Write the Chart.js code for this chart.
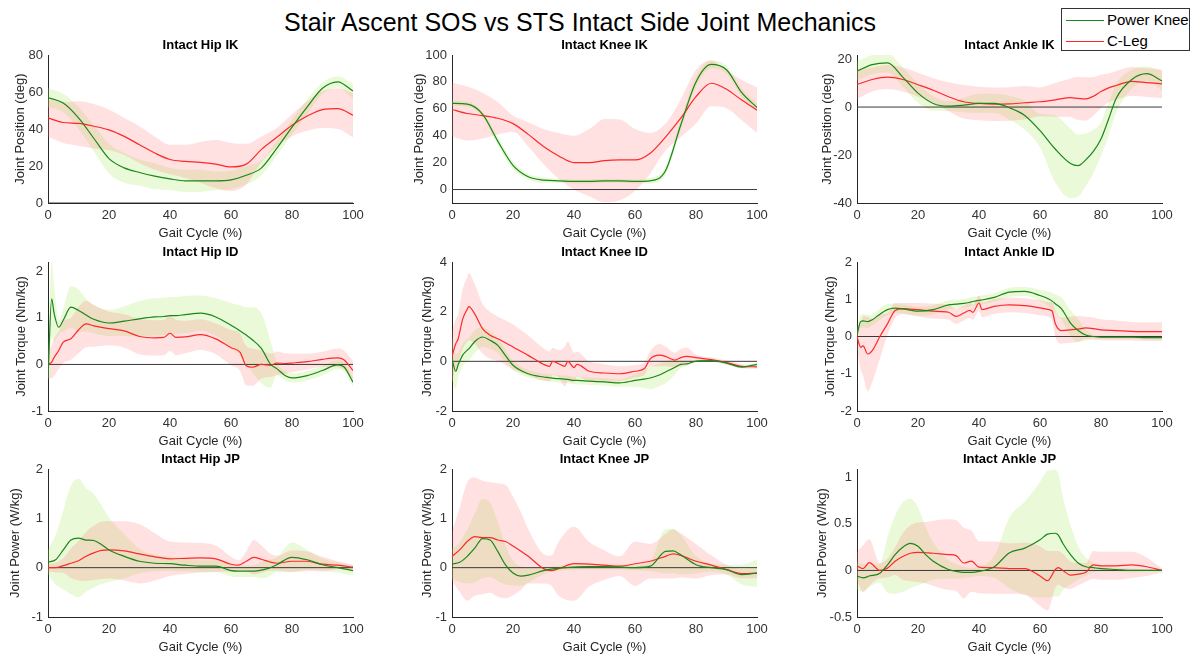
<!DOCTYPE html>
<html>
<head>
<meta charset="utf-8">
<title>Stair Ascent SOS vs STS Intact Side Joint Mechanics</title>
<script src="https://cdn.jsdelivr.net/npm/chart.js@4.4.0/dist/chart.umd.min.js"></script>
<style>
  body { margin: 0; background: #fff; width: 1196px; height: 658px; position: relative; overflow: hidden;
         font-family: "Liberation Sans", Arial, sans-serif; }
  #mainTitle { position: absolute; left: 0; top: 8px; width: 1160px; text-align: center;
               font-size: 25px; line-height: 28px; color: #000; }
  .panel { position: absolute; }
  #legend { position: absolute; left: 1061px; top: 8px; width: 127px; height: 41px;
            border: 1px solid #333; background: #fff; font-size: 15px; color: #000; }
  .entry { position: absolute; left: 4px; height: 18px; }
  .entry i { position: absolute; left: 0; top: 9px; width: 38px; height: 0; border-top: 1px solid; }
  .entry span { position: absolute; left: 41px; top: 0; white-space: nowrap; line-height: 18px; }
</style>
</head>
<body>
<div id="mainTitle">Stair Ascent SOS vs STS Intact Side Joint Mechanics</div>
<div id="legend">
  <div class="entry" style="top:2px"><i style="border-color:rgb(25,135,25)"></i><span>Power Knee</span></div>
  <div class="entry" style="top:23px"><i style="border-color:rgb(255,40,40)"></i><span>C-Leg</span></div>
</div>

<script>
// gait cycle axis
const gaitTicks = [0, 20, 40, 60, 80, 100];
const gaitRange = [0, 100];
const pct5 = [0,5,10,15,20,25,30,35,40,45,50,55,60,65,70,75,80,85,90,95,100];

// ---- Hip IK (deg) ----
const hipIkPk   = [57,54,46,35,24,19,16.5,14.5,13,12,12,12,12.5,15,19,29.5,41,52,62,65.5,60.5];
const hipIkPkSd = [5,5,6,7,8,8,7,7,6,6,6,5,5,5,4,4,4,4,3,3,4];
const hipIkCl   = [46,43.5,43,41.5,39.5,36,31.5,27,23.5,22.5,22,21,19.5,21,29,35.5,42,47,50.5,51,47.5];
const hipIkClSd = [10,11,12,12,11,10,10,9,8,9,11,13,13,11,7,5,6,8,10,11,12];
const hipIkTicks = [0, 20, 40, 60, 80];

// ---- Knee IK (deg) ----
const kneeIkPk   = [64,63.5,56,36,18,9.5,7,6.5,6,6,6.5,6.5,6,6.5,14,48,80,93,89,72,61];
const kneeIkPkSd = [2,2,2,3,3,2,2,1.5,1.5,1.5,1.5,1.5,1.5,2,3,4,4,3,3,3,3];
const kneeIkCl   = [59.5,56.5,55,53,49,41,32,25,20,20,21.5,22,22,27,39,53,69,79,74.5,66.5,59];
const kneeIkClSd = [20,20,17,12,6,9,13,17,20,25,31,30,23,15,10,14,20,17,14,15,17];
const kneeIkTicks = [0, 20, 40, 60, 80, 100];

// ---- Ankle IK (deg) ----
const ankleIkX    = [0,5,10,15,20,25,30,35,40,45,50,55,60,65,70,72.5,75,77.5,80,82.5,85,90,95,100];
const ankleIkPk   = [15,17.7,18.4,12.5,5.8,1.5,0.4,0.8,1.5,1.5,-0.3,-3.5,-9.8,-17.5,-23.5,-24.4,-22,-18.5,-13.3,-5,3.7,11.4,13.9,10.9];
const ankleIkPkSd = [4,4,4,4,4,3,2,3,4,4,5,6,7,14,14.5,13,11,9,7,7,6,4,3,4];
const ankleIkCl   = [9.4,11.5,12.5,11.5,9.3,7,4.3,2.2,1.5,1.2,1.3,1.8,2.2,3,3.9,3.6,3.4,4.5,6.5,8,9,10.7,10.2,9.7];
const ankleIkClSd = [6,5,5,5,5,5,6,7,7,7,7,7,6,7,8,9,9,8,7,6,6,6,6,6];
const ankleIkTicks = [-40, -20, 0, 20];

// ---- Hip ID (Nm/kg) ----
const hipIdX    = [0,1.2,2,3.5,5,7.5,10,12.5,15,20,25,30,35,38,40,42,45,50,55,60,63,65,67,70,73,75,78,80,85,90,95,97,100];
const hipIdPk   = [-0.3,1.41,1.1,0.8,0.95,1.23,1.16,1.06,0.97,0.89,0.93,0.98,1.02,1.03,1.05,1.05,1.07,1.1,1.02,0.84,0.72,0.63,0.53,0.34,0,-0.09,-0.25,-0.29,-0.24,-0.13,-0.01,-0.05,-0.38];
const hipIdPkSd = [0.1,0.8,0.6,0.15,0.25,0.45,0.45,0.35,0.3,0.28,0.32,0.38,0.4,0.4,0.4,0.4,0.4,0.38,0.4,0.48,0.55,0.6,0.7,0.75,0.5,0.15,0.1,0.1,0.1,0.1,0.1,0.1,0.1];
const hipIdCl   = [0,0.05,0.15,0.3,0.48,0.55,0.74,0.87,0.83,0.77,0.72,0.6,0.57,0.58,0.67,0.58,0.59,0.64,0.55,0.36,0.26,-0.03,-0.06,0,-0.02,0.03,0.02,0.03,0.06,0.11,0.14,0.1,-0.13];
const hipIdClSd = [0.3,0.35,0.4,0.4,0.45,0.45,0.5,0.5,0.45,0.36,0.36,0.38,0.38,0.38,0.38,0.38,0.35,0.33,0.33,0.38,0.4,0.42,0.4,0.3,0.25,0.25,0.22,0.2,0.17,0.16,0.2,0.2,0.2];
const hipIdTicks = [-1, 0, 1, 2];

// ---- Knee ID (Nm/kg) ----
const kneeIdX    = [0,1.2,2,3.5,5,5.5,7.5,10,12.5,15,17.5,20,25,30,32,33,35,37,38,40,41,45,50,55,60,63,65,68,70,73,75,77,80,85,90,95,100];
const kneeIdPk   = [0.1,-0.4,-0.15,0.25,0.45,0.5,0.8,0.98,0.85,0.64,0.24,-0.16,-0.5,-0.63,-0.66,-0.68,-0.7,-0.72,-0.73,-0.77,-0.77,-0.8,-0.83,-0.87,-0.77,-0.72,-0.67,-0.55,-0.43,-0.25,-0.12,-0.1,0.01,0.03,-0.07,-0.23,-0.12];
const kneeIdPkSd = [0.9,0.7,0.5,0.45,0.45,0.45,0.45,0.4,0.35,0.3,0.25,0.2,0.15,0.15,0.15,0.15,0.15,0.15,0.15,0.15,0.15,0.15,0.15,0.15,0.25,0.35,0.45,0.45,0.45,0.3,0.15,0.1,0.05,0.05,0.05,0.05,0.05];
const kneeIdCl   = [0.2,0.7,0.9,1.7,2.1,2.2,1.9,1.32,1.05,0.91,0.75,0.58,0.24,-0.12,-0.2,0,-0.1,-0.2,0,-0.25,-0.12,-0.4,-0.47,-0.5,-0.4,-0.3,0.1,0.25,0.2,0.05,0.15,0.2,0.15,0.07,-0.05,-0.2,-0.22];
const kneeIdClSd = [1.0,1.0,1.0,1.2,1.3,1.35,1.2,1.0,0.95,0.9,0.9,0.9,0.8,0.65,0.6,0.55,0.55,0.8,0.8,0.6,0.5,0.4,0.35,0.3,0.25,0.25,0.3,0.45,0.4,0.3,0.35,0.35,0.12,0.08,0.08,0.08,0.08];
const kneeIdTicks = [-2, 0, 2, 4];

// ---- Ankle ID (Nm/kg) ----
const ankleIdX    = [0,1.2,2,3.5,5,7.5,10,12.5,15,20,25,30,32.5,35,37,38,40,41,45,50,55,60,63,64,65,67,70,72.5,75,77.5,80,85,90,95,100];
const ankleIdPk   = [0.05,0.4,0.42,0.4,0.45,0.6,0.72,0.76,0.74,0.68,0.72,0.85,0.87,0.89,0.92,0.94,0.97,0.98,1.05,1.19,1.21,1.1,1.0,0.95,0.88,0.75,0.36,0.16,0.04,0,-0.02,-0.02,-0.02,-0.03,-0.03];
const ankleIdPkSd = [0.1,0.18,0.18,0.18,0.15,0.15,0.15,0.12,0.12,0.12, 0.12,0.12,0.12,0.12,0.12,0.12,0.12,0.12,0.12,0.12,0.12, 0.15,0.2,0.22,0.25,0.3,0.35,0.3,0.15, 0.05,0.05,0.05,0.05,0.05,0.05];
const ankleIdCl   = [0,-0.29,-0.25,-0.47,-0.38,0,0.34,0.7,0.75,0.72,0.68,0.65,0.54,0.63,0.7,0.65,0.9,0.72,0.81,0.85,0.83,0.77,0.72,0.68,0.35,0.16,0.18,0.2,0.23,0.21,0.18,0.16,0.14,0.13,0.13];
const ankleIdClSd = [0.3,0.6,0.8,1.0,0.85,0.6,0.3,0.2,0.15,0.18,0.2,0.2,0.2,0.2,0.2,0.2,0.2,0.2,0.2,0.2,0.2,0.2,0.2,0.25,0.35,0.35,0.35,0.35,0.3,0.3,0.28,0.27,0.25,0.25,0.25];
const ankleIdTicks = [-2, -1, 0, 1, 2];

// ---- Hip JP (W/kg) ----
const hipJpX    = [0,2.5,5,7.5,10,12.5,15,17.5,20,25,30,35,40,45,50,55,60,62.5,65,67.5,70,72.5,75,80,85,90,95,100];
const hipJpPk   = [0.11,0.16,0.36,0.56,0.6,0.56,0.55,0.47,0.36,0.23,0.13,0.09,0.08,0.05,0.03,0.03,-0.06,-0.07,-0.07,-0.07,-0.05,-0.01,0.06,0.21,0.16,0.06,0,-0.06];
const hipJpPkSd = [0.25,0.5,0.8,1.1,1.2,1.05,0.95,0.8,0.65,0.45,0.25,0.17,0.15,0.13,0.12,0.12,0.12,0.12,0.12,0.12,0.17,0.17,0.15,0.3,0.2,0.12,0.1,0.1];
const hipJpCl   = [0,0,0.04,0.09,0.14,0.23,0.3,0.35,0.36,0.34,0.28,0.22,0.18,0.19,0.2,0.18,0.07,0.05,0.13,0.21,0.17,0.12,0.09,0.13,0.13,0.07,0.05,0.01];
const hipJpClSd = [0.08,0.1,0.15,0.3,0.4,0.5,0.55,0.58,0.58,0.6,0.6,0.48,0.35,0.32,0.3,0.27,0.15,0.1,0.2,0.35,0.28,0.18,0.15,0.22,0.2,0.15,0.08,0.05];
const hipJpTicks = [-1, 0, 1, 2];

// ---- Knee JP (W/kg) ----
const kneeJpX    = [0,2.5,5,7.5,10,12.5,15,17.5,20,22.5,25,30,32.5,35,40,45,50,55,60,65,70,72.5,75,80,85,90,95,100];
const kneeJpPk   = [0.07,0.11,0.23,0.4,0.59,0.56,0.33,0.06,-0.11,-0.17,-0.15,-0.06,-0.03,-0.01,0.01,0.02,0.02,0.01,0,0.03,0.33,0.34,0.26,0.06,0,-0.04,-0.14,-0.11];
const kneeJpPkSd = [0.3,0.4,0.55,0.7,0.8,0.75,0.6,0.4,0.25,0.2,0.15,0.08,0.05,0.05,0.05,0.05,0.05,0.05,0.05,0.1,0.45,0.45,0.4,0.18,0.08,0.1,0.2,0.28];
const kneeJpCl   = [0.23,0.36,0.53,0.63,0.61,0.61,0.56,0.53,0.44,0.34,0.23,-0.02,-0.06,-0.02,0.08,0.07,0.05,0.03,0.08,0.13,0.23,0.28,0.25,0.13,0.05,-0.04,-0.12,-0.11];
const kneeJpClSd = [0.5,0.85,1.2,1.2,1.15,1.12,1.15,1.15,1.0,0.8,0.55,0.3,0.3,0.55,0.75,0.45,0.3,0.2,0.45,0.35,0.45,0.5,0.45,0.35,0.2,0.1,0.1,0.1];
const kneeJpTicks = [-1, 0, 1, 2];

// ---- Ankle JP (W/kg) ----
const ankleJpX    = [0,2,4,7.5,10,12.5,15,17.5,20,22.5,25,30,32.5,35,37.5,40,45,50,55,60,62.5,65,66,67.5,70,72.5,75,77.5,80,85,90,95,100];
const ankleJpPk   = [-0.06,-0.08,-0.06,-0.03,0.06,0.17,0.25,0.29,0.26,0.17,0.1,0.01,-0.01,-0.02,-0.02,-0.01,0.04,0.19,0.24,0.33,0.39,0.4,0.38,0.29,0.17,0.08,0.04,0.03,0.02,0.01,0,0,0];
const ankleJpPkSd = [0.15,0.15,0.12,0.1,0.3,0.42,0.48,0.48,0.42,0.3,0.2,0.1,0.08,0.06,0.05,0.05,0.12,0.38,0.5,0.62,0.68,0.68,0.66,0.5,0.32,0.18,0.1,0.05,0.03,0.02,0.02,0.01,0.01];
const ankleJpCl   = [0.05,0.02,0.085,0,0.025,0.1,0.15,0.185,0.195,0.19,0.185,0.17,0.16,0.08,0.1,0.035,0.03,0.02,0.02,-0.06,-0.11,0.01,0.03,0,-0.05,-0.04,-0.02,0.06,0.05,0.05,0.06,0.04,0];
const ankleJpClSd = [0.15,0.25,0.25,0.08,0.1,0.15,0.25,0.3,0.32,0.33,0.35,0.38,0.38,0.38,0.33,0.28,0.28,0.27,0.28,0.32,0.32,0.2,0.18,0.18,0.15,0.12,0.1,0.15,0.15,0.15,0.14,0.1,0.02];
const ankleJpTicks = [-0.5, 0, 0.5, 1];

// panel setup: which data, axis limits and where each subplot sits
const colLeft = [48, 452, 857];
const rowTop = [55, 262, 469];
const rowH = [148, 149, 148];
const PLOT_W = 305;

const panels = [
  { title: 'Intact Hip IK',   yLabel: 'Joint Position (deg)', x: pct5,     pk: hipIkPk,   pkSd: hipIkPkSd,   cl: hipIkCl,   clSd: hipIkClSd,   yMin: 0,    yMax: 80,   yTicks: hipIkTicks,   row: 0, col: 0, gap: 28 },
  { title: 'Intact Knee IK',  yLabel: 'Joint Position (deg)', x: pct5,     pk: kneeIkPk,  pkSd: kneeIkPkSd,  cl: kneeIkCl,  clSd: kneeIkClSd,  yMin: -10,  yMax: 100,  yTicks: kneeIkTicks,  row: 0, col: 1, gap: 33 },
  { title: 'Intact Ankle IK', yLabel: 'Joint Position (deg)', x: ankleIkX, pk: ankleIkPk, pkSd: ankleIkPkSd, cl: ankleIkCl, clSd: ankleIkClSd, yMin: -40,  yMax: 21.7, yTicks: ankleIkTicks, row: 0, col: 2, gap: 30 },
  { title: 'Intact Hip ID',   yLabel: 'Joint Torque (Nm/kg)', x: hipIdX,   pk: hipIdPk,   pkSd: hipIdPkSd,   cl: hipIdCl,   clSd: hipIdClSd,   yMin: -1,   yMax: 2.2,  yTicks: hipIdTicks,   row: 1, col: 0, gap: 27 },
  { title: 'Intact Knee ID',  yLabel: 'Joint Torque (Nm/kg)', x: kneeIdX,  pk: kneeIdPk,  pkSd: kneeIdPkSd,  cl: kneeIdCl,  clSd: kneeIdClSd,  yMin: -2,   yMax: 4,    yTicks: kneeIdTicks,  row: 1, col: 1, gap: 25 },
  { title: 'Intact Ankle ID', yLabel: 'Joint Torque (Nm/kg)', x: ankleIdX, pk: ankleIdPk, pkSd: ankleIdPkSd, cl: ankleIdCl, clSd: ankleIdClSd, yMin: -2,   yMax: 2,    yTicks: ankleIdTicks, row: 1, col: 2, gap: 27 },
  { title: 'Intact Hip JP',   yLabel: 'Joint Power (W/kg)',   x: hipJpX,   pk: hipJpPk,   pkSd: hipJpPkSd,   cl: hipJpCl,   clSd: hipJpClSd,   yMin: -1,   yMax: 2,    yTicks: hipJpTicks,   row: 2, col: 0, gap: 33 },
  { title: 'Intact Knee JP',  yLabel: 'Joint Power (W/kg)',   x: kneeJpX,  pk: kneeJpPk,  pkSd: kneeJpPkSd,  cl: kneeJpCl,  clSd: kneeJpClSd,  yMin: -1,   yMax: 2,    yTicks: kneeJpTicks,  row: 2, col: 1, gap: 25 },
  { title: 'Intact Ankle JP', yLabel: 'Joint Power (W/kg)',   x: ankleJpX, pk: ankleJpPk, pkSd: ankleJpPkSd, cl: ankleJpCl, clSd: ankleJpClSd, yMin: -0.5, yMax: 1.09, yTicks: ankleJpTicks, row: 2, col: 2, gap: 35 }
];

const PK_LINE = 'rgb(25,135,25)';
const CL_LINE = 'rgb(255,40,40)';
const PK_BAND = 'rgba(170,235,100,0.25)';
const CL_BAND = 'rgba(255,120,120,0.22)';
const FONT = '"Liberation Sans", Arial, sans-serif';

const Y_BOX = 48, TITLE_H = 25, X_BOX = 42, RIGHT_PAD = 25;

// bold title centred over the plot area (not the whole canvas)
const subplotTitle = {
  id: 'subplotTitle',
  afterDraw(chart, args, opts) {
    const { ctx, chartArea } = chart;
    ctx.save();
    ctx.font = 'bold 13px ' + FONT;
    ctx.fillStyle = '#000';
    ctx.textAlign = 'center';
    ctx.textBaseline = 'middle';
    ctx.fillText(opts.text, (chartArea.left + chartArea.right) / 2, chartArea.top - 10);
    ctx.restore();
  }
};

function points(xs, ys) {
  return xs.map((x, i) => ({ x, y: ys[i] }));
}
function offsetPoints(xs, mean, sd, sign) {
  return xs.map((x, i) => ({ x, y: mean[i] + sign * sd[i] }));
}

function lineSet(data, color) {
  return { data, borderColor: color, borderWidth: 1.2, pointRadius: 0, fill: false,
           cubicInterpolationMode: 'monotone' };
}
function bandSet(data, fill, color) {
  return { data, borderWidth: 0, borderColor: 'rgba(0,0,0,0)', backgroundColor: color,
           pointRadius: 0, fill, cubicInterpolationMode: 'monotone' };
}

function drawPanel(p) {
  const plotH = rowH[p.row];
  const canvas = document.createElement('canvas');
  canvas.className = 'panel';
  canvas.width = Y_BOX + PLOT_W + RIGHT_PAD;
  canvas.height = TITLE_H + plotH + X_BOX;
  canvas.style.left = (colLeft[p.col] - Y_BOX) + 'px';
  canvas.style.top = (rowTop[p.row] - TITLE_H) + 'px';
  document.body.appendChild(canvas);

  // dataset 0 is drawn on top, so means first and bands last
  const datasets = [
    lineSet(points(p.x, p.pk), PK_LINE),
    lineSet(points(p.x, p.cl), CL_LINE),
    { data: gaitRange.map(x => ({ x, y: 0 })), borderColor: '#3a3a3a', borderWidth: 1, pointRadius: 0, fill: false },
    bandSet(offsetPoints(p.x, p.cl, p.clSd, 1), '+1', CL_BAND),
    bandSet(offsetPoints(p.x, p.cl, p.clSd, -1), false, CL_BAND),
    bandSet(offsetPoints(p.x, p.pk, p.pkSd, 1), '+1', PK_BAND),
    bandSet(offsetPoints(p.x, p.pk, p.pkSd, -1), false, PK_BAND)
  ];

  new Chart(canvas, {
    type: 'line',
    data: { datasets },
    plugins: [subplotTitle],
    options: {
      responsive: false,
      animation: false,
      events: [],
      layout: { padding: { left: 0, right: RIGHT_PAD, top: TITLE_H, bottom: 0 } },
      scales: {
        x: {
          type: 'linear', min: 0, max: 100,
          afterBuildTicks: axis => { axis.ticks = gaitTicks.map(v => ({ value: v })); },
          afterFit: axis => { axis.height = X_BOX; },
          grid: { display: false, drawTicks: false },
          border: { display: true, color: '#262626', width: 1 },
          ticks: { color: '#333', font: { family: FONT, size: 13 }, padding: 5, maxRotation: 0, autoSkip: false },
          title: { display: true, text: 'Gait Cycle (%)', color: '#262626',
                   font: { family: FONT, size: 13, lineHeight: '15px' }, padding: { top: 0, bottom: X_BOX - 30 - 7.5 } }
        },
        y: {
          type: 'linear', min: p.yMin, max: p.yMax,
          afterBuildTicks: axis => { axis.ticks = p.yTicks.map(v => ({ value: v })); },
          afterFit: axis => { axis.width = Y_BOX; },
          grid: { display: false, drawTicks: false },
          border: { display: true, color: '#262626', width: 1 },
          ticks: { color: '#333', font: { family: FONT, size: 13 }, padding: 5, callback: v => String(v) },
          title: { display: true, text: p.yLabel, color: '#262626',
                   font: { family: FONT, size: 13, lineHeight: '15px' }, padding: { top: Y_BOX - p.gap - 7.5, bottom: 0 } }
        }
      },
      plugins: {
        legend: { display: false },
        tooltip: { enabled: false },
        title: { display: false },
        subplotTitle: { text: p.title }
      }
    }
  });
}

panels.forEach(drawPanel);
</script>
</body>
</html>
